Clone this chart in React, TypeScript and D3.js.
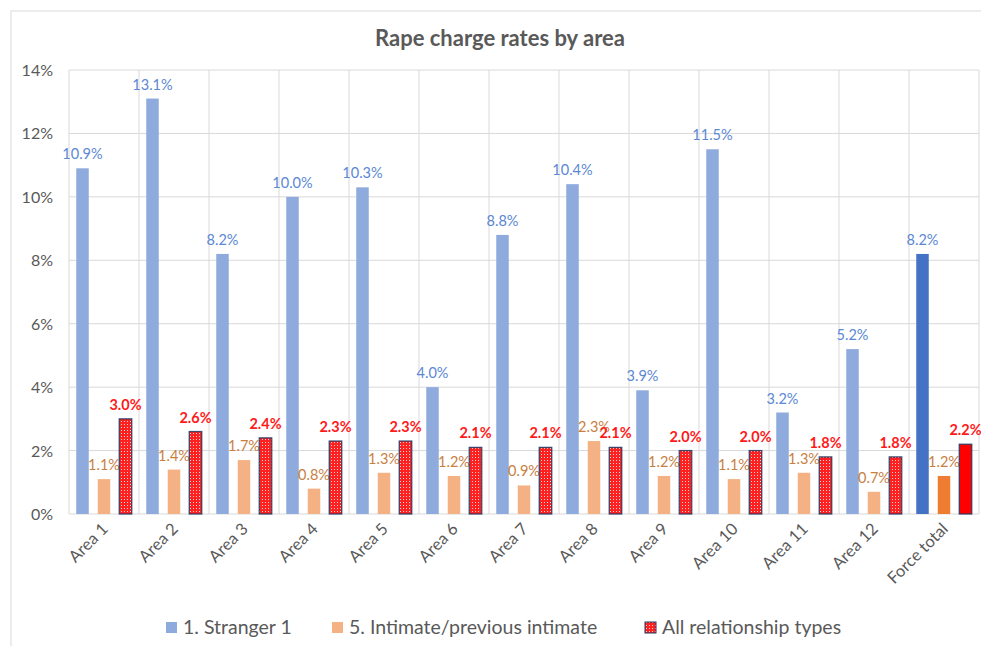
import React from "react";
import * as d3 from "d3";

const categories = ["Area 1","Area 2","Area 3","Area 4","Area 5","Area 6","Area 7","Area 8","Area 9","Area 10","Area 11","Area 12","Force total"];
const stranger = [10.9,13.1,8.2,10.0,10.3,4.0,8.8,10.4,3.9,11.5,3.2,5.2,8.2];
const intimate = [1.1,1.4,1.7,0.8,1.3,1.2,0.9,2.3,1.2,1.1,1.3,0.7,1.2];
const allTypes = [3.0,2.6,2.4,2.3,2.3,2.1,2.1,2.1,2.0,2.0,1.8,1.8,2.2];
const yTicks = [0,2,4,6,8,10,12,14];
const seriesNames = ["1. Stranger 1","5. Intimate/previous intimate","All relationship types"];

const FONT = "Lato, 'Open Sans', sans-serif";

export default function App() {
  const W = 981, H = 646;
  const left = 69, right = 979, top = 70, bottom = 514;
  const x = d3.scaleBand<string>().domain(categories).range([left, right]).paddingInner(0).paddingOuter(0);
  const y = d3.scaleLinear().domain([0, 14]).range([bottom, top]);
  const bw = 12.5, gap = 9;
  const groupW = 3 * bw + 2 * gap;
  const off = (x.bandwidth() - groupW) / 2;
  const barX = (c: string, s: number) => (x(c) as number) + off + s * (bw + gap);
  const last = categories.length - 1;

  const series = [
    { vals: stranger, fill: "#8FAADC", totalFill: "#4472C4", label: "#5B87D4", bold: false },
    { vals: intimate, fill: "#F4B183", totalFill: "#ED7D31", label: "#C8803F", bold: false },
    { vals: allTypes, fill: "url(#chk)", totalFill: "#FF0000", label: "#FF1A1A", bold: true },
  ];

  return (
    <svg width={W} height={H} style={{ position: "absolute", left: 0, top: 0, fontFamily: FONT }}>
      <defs>
        <pattern id="chk" width="3" height="3" patternUnits="userSpaceOnUse">
          <rect width="3" height="3" fill="#FF2020" />
          <rect x="1" y="1" width="1" height="1" fill="#FFD0D0" />
        </pattern>
      </defs>
      <rect x={0} y={0} width={W} height={H} fill="#fff" />
      <rect x={11} y={11} width={W + 10} height={H + 10} fill="#fff" stroke="#D9D9D9" strokeWidth={1} />
      <text x={500} y={46} textAnchor="middle" fontSize={22} fontWeight="bold" fill="#595959">Rape charge rates by area</text>
      {yTicks.map(t => (
        <g key={t}>
          <line x1={left} x2={right} y1={y(t)} y2={y(t)} stroke="#D9D9D9" strokeWidth={1} />
          <text x={53} y={y(t) + 6} textAnchor="end" fontSize={16} fill="#595959">{t}%</text>
        </g>
      ))}
      {categories.map((c, i) => (
        <line key={"v" + i} x1={(x(c) as number)} x2={(x(c) as number)} y1={top} y2={bottom} stroke="#D9D9D9" />
      ))}
      <line x1={right} x2={right} y1={top} y2={bottom} stroke="#D9D9D9" />
      {series.map((s, si) =>
        categories.map((c, i) => {
          const v = s.vals[i];
          const bx = barX(c, si);
          const isTot = i === last;
          const fill = isTot ? s.totalFill : s.fill;
          return (
            <g key={si + "-" + i}>
              <rect x={bx} y={y(v)} width={bw} height={bottom - y(v)} fill={fill}
                stroke={si === 2 ? "#1F3864" : "none"} strokeWidth={si === 2 ? 1.3 : 0} strokeOpacity={0.85} />
              <text x={bx + bw / 2} y={y(v) - 9} textAnchor="middle" fontSize={14.5}
                fontWeight={s.bold ? "bold" : "normal"} fill={s.label}>{v.toFixed(1)}%</text>
            </g>
          );
        })
      )}
      {categories.map((c, i) => {
        const cx = (x(c) as number) + x.bandwidth() / 2 + 5;
        return (
          <text key={"xl" + i} transform={`translate(${cx},${530}) rotate(-45)`} textAnchor="end" fontSize={16.5} fill="#595959">{c}</text>
        );
      })}
      {[
        { x: 166, fill: "#8FAADC", name: seriesNames[0] },
        { x: 332, fill: "#F4B183", name: seriesNames[1] },
        { x: 645, fill: "url(#chk)", name: seriesNames[2] },
      ].map((l, i) => (
        <g key={"lg" + i}>
          <rect x={l.x} y={622} width={11} height={11} fill={l.fill} stroke={i === 2 ? "#1F3864" : "none"} strokeWidth={1} />
          <text x={l.x + 17} y={634} fontSize={19.5} fill="#595959">{l.name}</text>
        </g>
      ))}
    </svg>
  );
}
